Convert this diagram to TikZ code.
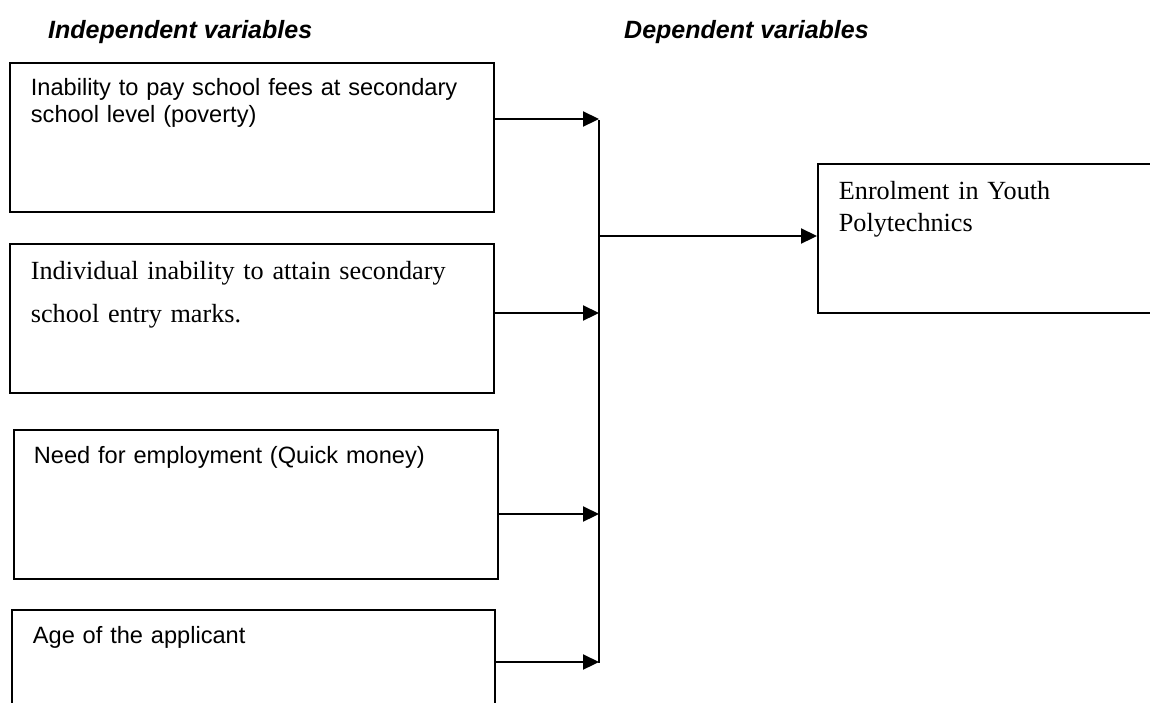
\documentclass[tikz,border=0pt]{standalone}
\usepackage{fontspec}
\setmainfont{Liberation Serif}
\newfontfamily\arialfont{Liberation Sans}
\usetikzlibrary{arrows.meta}
\tikzset{
  varbox/.style={draw, line width=1.8pt, anchor=north west, align=left, inner ysep=0pt, inner xsep=21pt},
  sansbody/.style={font=\arialfont\fontsize{23.6}{27}\selectfont},
  serifbody/.style={font=\fontsize{26.2}{43}\selectfont},
  header/.style={anchor=base west, inner sep=0pt, font=\arialfont\bfseries\itshape\fontsize{25}{30}\selectfont},
  arr/.style={line width=2.2pt, -{Triangle[length=16pt,width=15pt]}},
  trunk/.style={line width=1.9pt}
}
\begin{document}
\begin{tikzpicture}[x=1pt,y=-1pt]
\useasboundingbox (0,0) rectangle (1150,702);
\clip (0,0) rectangle (1150,702);
% headers
\node[header] (hind) at (48,38) {Independent variables};
\node[header] (hdep) at (624,38) {Dependent variables};
% independent boxes
\node[varbox, sansbody, text width=442pt, text height=33pt, text depth=116pt] (b1) at (9,62)
  {Inability to pay school fees at secondary\\school level (poverty)};
\node[varbox, serifbody, text width=442pt, text height=36pt, text depth=113pt] (b2) at (9,243)
  {Individual inability to attain secondary\\school entry marks.};
\node[varbox, sansbody, inner xsep=20pt, text width=444pt, text height=34pt, text depth=115pt] (b3) at (13,429)
  {Need for employment (Quick money)};
\node[varbox, sansbody, text width=441pt, text height=34pt, text depth=116pt] (b4) at (11,609)
  {Age of the applicant};
% dependent box
\node[varbox, font=\fontsize{26.2}{32}\selectfont, text width=400pt, text height=36pt, text depth=113pt] (dep) at (817,163)
  {Enrolment in Youth\\Polytechnics};
% junction coordinates
\coordinate (j1) at (599,119);
\coordinate (j2) at (599,313);
\coordinate (j3) at (599,514);
\coordinate (j4) at (599,662);
\coordinate (jm) at (599,236);
\coordinate (jtop) at (599,120);
\coordinate (jbot) at (599,663);
% connectors
\draw[trunk] (jtop) -- (jbot);
\draw[arr] (b1.east |- j1) -- (j1);
\draw[arr] (b2.east |- j2) -- (j2);
\draw[arr] (b3.east |- j3) -- (j3);
\draw[arr] (b4.east |- j4) -- (j4);
\draw[arr] (jm) -- (dep.west |- jm);
\end{tikzpicture}
\end{document}
